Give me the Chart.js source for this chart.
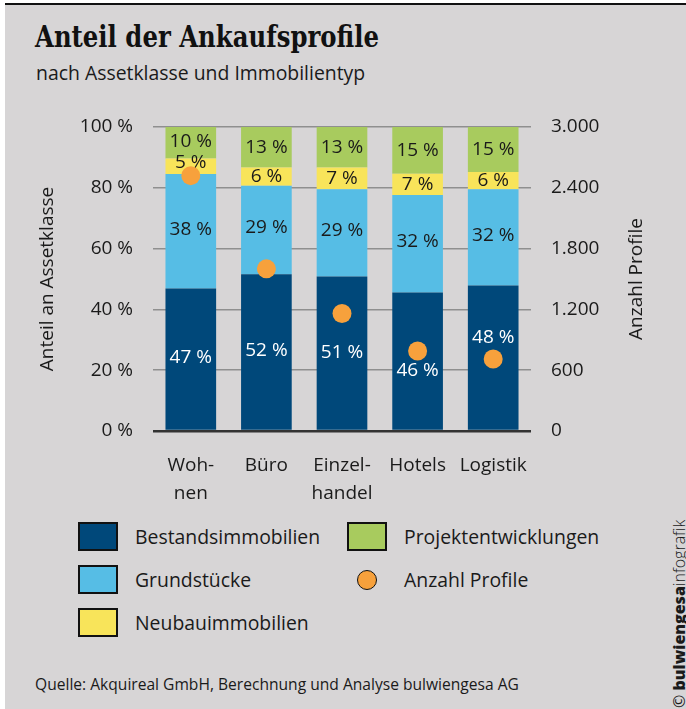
<!DOCTYPE html>
<html><head><meta charset="utf-8">
<script src="https://cdn.jsdelivr.net/npm/chart.js@4"></script>
<style>
html,body{margin:0;padding:0;background:#fff;}
body{width:686px;height:709px;position:relative;overflow:hidden;font-family:"Open Sans",sans-serif;color:#1a1a1a;}
#bg{position:absolute;left:5px;top:3px;width:681px;height:706px;background:#d7d5d6;border-top:2px solid #111;box-sizing:border-box;}
#title{position:absolute;left:35px;top:17px;font-family:"DejaVu Serif",serif;font-weight:bold;font-size:29px;line-height:40px;transform:scaleX(0.84);transform-origin:0 0;white-space:nowrap;color:#111;}
#subtitle{position:absolute;left:36px;top:60px;font-size:19.4px;line-height:26px;white-space:nowrap;}
#wrap{position:absolute;left:0;top:100px;width:686px;height:410px;}
.leg{position:absolute;height:29px;display:flex;align-items:center;font-size:19.4px;white-space:nowrap;}
.leg .box{width:40px;height:29px;border:2px solid #111;box-sizing:border-box;}
.leg .dotw{width:40px;height:29px;display:flex;align-items:center;justify-content:center;}
.leg .dot{width:20px;height:20px;border-radius:50%;border:1.5px solid #111;box-sizing:border-box;}
.leg span{margin-left:17px;}
#source{position:absolute;left:35px;top:673px;font-size:15.6px;line-height:22px;white-space:nowrap;}
#copy{position:absolute;left:671px;top:708px;font-size:16px;line-height:16px;white-space:nowrap;transform:rotate(-90deg);transform-origin:0 0;}
#copy b{font-weight:800;}
#copy i{font-style:normal;font-weight:300;}
</style></head>
<body>
<div id="bg"></div>
<div id="title">Anteil der Ankaufsprofile</div>
<div id="subtitle">nach Assetklasse und Immobilientyp</div>
<div id="wrap"><canvas id="c"></canvas></div>
<div id="legend"></div>
<div id="source">Quelle: Akquireal GmbH, Berechnung und Analyse bulwiengesa AG</div>
<div id="copy">© <b>bulwiengesa</b><i>infografik</i></div>
<script>
// ---- data ----
const categories = [['Woh-','nen'], 'Büro', ['Einzel-','handel'], 'Hotels', 'Logistik'];
const bestand  = [46.9, 51.6, 50.8, 45.6, 47.9];
const grund    = [37.6, 29.1, 28.7, 32.0, 31.6];
const neubau   = [5.1, 6.0, 7.2, 7.0, 5.7];
const projekt  = [10.4, 13.3, 13.3, 15.4, 14.8];
const anzahl   = [2520, 1600, 1160, 790, 710];
const pctTicks   = [0, 20, 40, 60, 80, 100];
const countTicks = [0, 600, 1200, 1800, 2400, 3000];
const seriesNames = ['Bestandsimmobilien', 'Grundstücke', 'Neubauimmobilien', 'Projektentwicklungen', 'Anzahl Profile'];

// ---- styling / layout ----
const colors = ['#00487a', '#56bde5', '#f8e45a', '#a8cb5e', '#f7a13c'];
const labelColors = ['#ffffff', '#1a1a1a', '#1a1a1a', '#1a1a1a'];
const labelNudge = [[-1,-1,-1,10,-20],[-2,-2,-2,-2,-2],[-4,0,0,0,0],[-1,0,0,0,0]];
const legendSlots = [[78,522],[78,565],[78,608],[347,522],[347,565]];

function fmtThousands(v){ return String(v).replace(/\B(?=(\d{3})+(?!\d))/g, '.'); }

const segLabels = {
  id: 'segLabels',
  beforeDatasetDraw(chart, args){
    if (args.meta.type !== 'line') return;
    const ctx = chart.ctx;
    ctx.save();
    ctx.font = '19px "Open Sans"';
    ctx.textAlign = 'center';
    ctx.textBaseline = 'middle';
    chart.data.datasets.forEach((ds, i) => {
      if (ds.type === 'line') return;
      const meta = chart.getDatasetMeta(i);
      meta.data.forEach((bar, j) => {
        const y = (bar.y + bar.base) / 2 + labelNudge[i][j];
        ctx.fillStyle = labelColors[i];
        ctx.fillText(Math.round(ds.data[j]) + ' %', bar.x, y);
      });
    });
    ctx.restore();
  },
  afterDraw(chart){
    const ctx = chart.ctx, s = chart.scales.y2, a = chart.chartArea;
    ctx.save();
    ctx.font = '19px "Open Sans"';
    ctx.fillStyle = '#1a1a1a';
    ctx.textAlign = 'center';
    ctx.textBaseline = 'middle';
    ctx.translate(s.left + 106, (a.top + a.bottom) / 2);
    ctx.rotate(-Math.PI / 2);
    ctx.fillText(seriesNames[4], 0, 0);
    ctx.restore();
  }
};

function build(){
  Chart.defaults.font.family = '"Open Sans"';
  Chart.defaults.font.size = 19;
  Chart.defaults.color = '#1a1a1a';
  const seriesData = [bestand, grund, neubau, projekt];
  const datasets = seriesData.map((d, i) => ({
    type: 'bar', label: seriesNames[i], data: d, backgroundColor: colors[i],
    borderWidth: 0, yAxisID: 'y', order: 1,
    barPercentage: 0.67, categoryPercentage: 1
  }));
  datasets.push({
    type: 'line', label: seriesNames[4], data: anzahl, yAxisID: 'y2', order: 0,
    showLine: false, pointRadius: 9.5, pointHoverRadius: 9.5,
    backgroundColor: colors[4], borderColor: colors[4], pointBorderWidth: 0
  });
  const chart = new Chart(document.getElementById('c'), {
    type: 'bar',
    data: { labels: categories, datasets },
    options: {
      responsive: true, maintainAspectRatio: false, animation: false,
      layout: { padding: { top: 27, left: 0, right: 0, bottom: 0 } },
      plugins: { legend: { display: false }, tooltip: { enabled: false } },
      scales: {
        x: {
          stacked: true,
          grid: { display: false, drawTicks: false },
          border: { display: false },
          ticks: { padding: 21, font: { size: 19, lineHeight: 1.47 }, maxRotation: 0, autoSkip: false },
          afterFit: s => { s.height = 79; }
        },
        y: {
          stacked: true, position: 'left', min: 0, max: 100,
          afterBuildTicks: s => { s.ticks = pctTicks.map(v => ({ value: v })); },
          grid: {
            drawTicks: false,
            color: c => c.tick && c.tick.value === 0 ? '#333333' : '#8f8f8f',
            lineWidth: c => c.tick && c.tick.value === 0 ? 2.5 : 1.5
          },
          border: { display: false },
          ticks: { padding: 20, callback: v => v + ' %' },
          title: { display: true, text: 'Anteil an Assetklasse', font: { size: 19 }, padding: { top: 36, bottom: 0 } },
          afterFit: s => { s.width = 153; s.paddingTop = 0; s.paddingBottom = 0; }
        },
        y2: {
          position: 'right', min: 0, max: 3000,
          afterBuildTicks: s => { s.ticks = countTicks.map(v => ({ value: v })); },
          grid: { display: false, drawTicks: false },
          border: { display: false },
          ticks: { padding: 20, callback: v => fmtThousands(v) },
          afterFit: s => { s.width = 155; s.paddingTop = 0; s.paddingBottom = 0; }
        }
      }
    },
    plugins: [segLabels]
  });
  // HTML legend from chart datasets
  const leg = document.getElementById('legend');
  chart.data.datasets.forEach((ds, i) => {
    const el = document.createElement('div');
    el.className = 'leg';
    el.style.left = legendSlots[i][0] + 'px';
    el.style.top = legendSlots[i][1] + 'px';
    if (ds.type === 'line') {
      el.innerHTML = '<div class="dotw"><div class="dot" style="background:' + ds.backgroundColor + '"></div></div><span>' + ds.label + '</span>';
    } else {
      el.innerHTML = '<div class="box" style="background:' + ds.backgroundColor + '"></div><span>' + ds.label + '</span>';
    }
    leg.appendChild(el);
  });
}
if (document.fonts && document.fonts.load) {
  Promise.all([document.fonts.load('19px "Open Sans"'), document.fonts.load('bold 29px "DejaVu Serif"')]).then(build, build);
} else { build(); }
</script>
</body></html>
